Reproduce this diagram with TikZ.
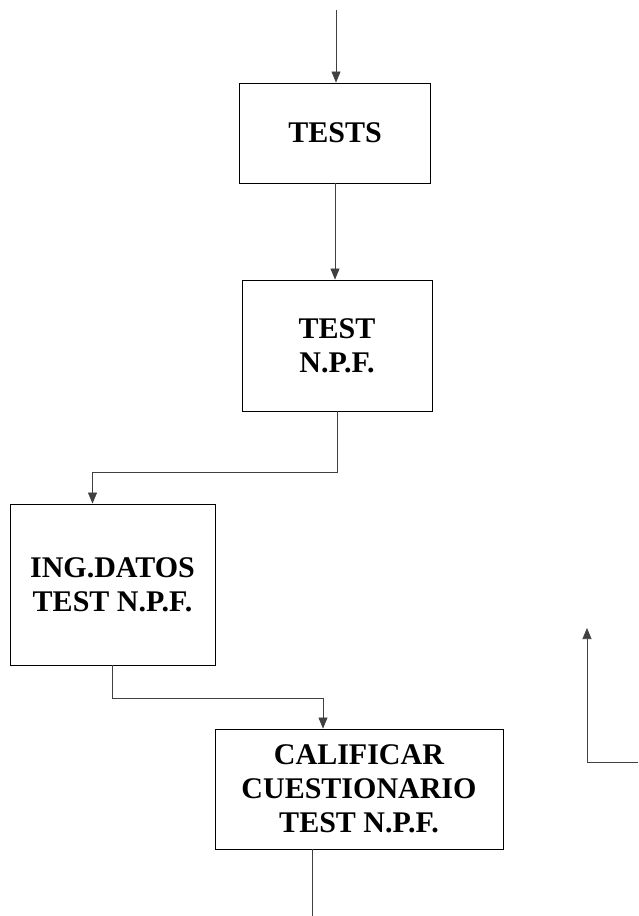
\documentclass[tikz,border=0pt]{standalone}
\usepackage{fontspec}
\setmainfont{Liberation Serif}
\usetikzlibrary{arrows.meta}
\begin{document}
\begin{tikzpicture}[
  x=1pt, y=-1pt,
  procbox/.style={rectangle, draw, line width=0.9pt, inner sep=0pt,
    align=center, font=\bfseries\fontsize{30}{34}\selectfont},
  flow/.style={draw=black!75, line width=0.6pt},
  flowarrow/.style={flow, -{Triangle[length=11pt, width=9pt]}},
]
\useasboundingbox (0,0) rectangle (638,916);

% Process boxes
\node[procbox, minimum width=191pt, minimum height=100pt] (tests) at (335,133)
  {TESTS};
\node[procbox, minimum width=190pt, minimum height=131pt] (npf) at (337,345.5)
  {TEST\\N.P.F.};
\node[procbox, minimum width=205pt, minimum height=161pt] (ingdatos) at (112.5,584.5)
  {ING.DATOS\\TEST N.P.F.};
\node[procbox, minimum width=288pt, minimum height=120pt] (calif) at (359,789)
  {CALIFICAR\\CUESTIONARIO\\TEST N.P.F.};

% Free ends
\coordinate (start) at (336,10);
\coordinate (loopin) at (638,762);
\coordinate (loopend) at (587,628);

% Connectors
\draw[flowarrow] (start) -- (start |- tests.north);
\draw[flowarrow] (tests.south) -- (tests.south |- npf.north);
\draw[flowarrow] (npf.south) -- ++(0,61) -| ([xshift=-20pt]ingdatos.north);
\draw[flowarrow] (ingdatos.south) -- ++(0,33) -| ([xshift=-36pt]calif.north);
\draw[flow] ([xshift=-47pt]calif.south) -- ++(0,67);
\draw[flowarrow] (loopin) -| (loopend);

\end{tikzpicture}
\end{document}
